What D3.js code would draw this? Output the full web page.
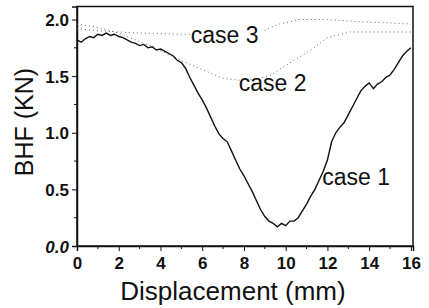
<!DOCTYPE html>
<html>
<head>
<meta charset="utf-8">
<script src="https://cdn.jsdelivr.net/npm/d3@7"></script>
<style>
  body { margin: 0; background: #fff; }
  svg { display: block; font-family: "Liberation Sans", Arial, sans-serif; }
</style>
</head>
<body>
<div id="chart"></div>
<script>
// displacement (mm) and BHF (KN)
const case1X = [0, 0.2, 0.4, 0.6, 0.8, 1.0, 1.2, 1.4, 1.6, 1.8, 2.0, 2.2, 2.4, 2.6, 2.8, 3.0, 3.2, 3.4, 3.6, 3.8,
  4.0, 4.2, 4.4, 4.6, 4.8, 5.0, 5.2, 5.4, 5.6, 5.8, 6.0, 6.2, 6.4, 6.6, 6.8, 7.0, 7.2, 7.4, 7.6, 7.8,
  8.0, 8.2, 8.4, 8.6, 8.8, 9.0, 9.2, 9.4, 9.6, 9.8, 10.0, 10.2, 10.4, 10.6, 10.8, 11.0, 11.2, 11.4, 11.6, 11.8,
  12.0, 12.2, 12.4, 12.6, 12.8, 13.0, 13.2, 13.4, 13.6, 13.8, 14.0, 14.2, 14.4, 14.6, 14.8, 15.0, 15.2, 15.4, 15.6, 15.8, 16.0];
const case1Y = [1.82, 1.80, 1.83, 1.85, 1.84, 1.87, 1.86, 1.88, 1.86, 1.87, 1.85, 1.84, 1.82, 1.80, 1.79, 1.77, 1.78, 1.75, 1.76, 1.73,
  1.74, 1.72, 1.70, 1.68, 1.64, 1.62, 1.57, 1.49, 1.42, 1.35, 1.29, 1.22, 1.14, 1.06, 0.99, 0.95, 0.92, 0.84, 0.76, 0.68,
  0.62, 0.55, 0.48, 0.40, 0.32, 0.26, 0.22, 0.20, 0.17, 0.20, 0.18, 0.22, 0.22, 0.25, 0.31, 0.37, 0.44, 0.50, 0.58, 0.66,
  0.76, 0.92, 1.00, 1.05, 1.09, 1.16, 1.23, 1.30, 1.37, 1.41, 1.44, 1.39, 1.43, 1.45, 1.49, 1.51, 1.56, 1.62, 1.68, 1.72, 1.75];

const case2X = [0, 1, 2, 2.8, 3.5, 4.3, 5.1, 6.1, 7.0, 8.0, 8.7, 9.3, 9.8, 10.4, 11.2, 12.0, 13.1, 14.0, 15.0, 16.0];
const case2Y = [1.96, 1.93, 1.88, 1.82, 1.77, 1.70, 1.63, 1.55, 1.48, 1.46, 1.48, 1.51, 1.57, 1.64, 1.73, 1.84, 1.89, 1.89, 1.89, 1.89];

const case3X = [0, 1, 2, 3, 4, 5, 5.5];
const case3Y = [1.92, 1.90, 1.89, 1.88, 1.875, 1.87, 1.87];
const case3bX = [9.0, 9.25, 9.7, 10.2, 10.6, 12.0, 13.6, 15.0, 16.0];
const case3bY = [1.90, 1.93, 1.96, 1.98, 2.0, 2.0, 1.98, 1.97, 1.96];

const xTicks = [0, 2, 4, 6, 8, 10, 12, 14, 16];
const xMinor = [1, 3, 5, 7, 9, 11, 13, 15];
const yTicks = [0, 0.5, 1.0, 1.5, 2.0];
const yMinor = [0.25, 0.75, 1.25, 1.75];

const labels = [
  {text: "case 3", x: 5.45, y: 1.795},
  {text: "case 2", x: 7.75, y: 1.37},
  {text: "case 1", x: 11.75, y: 0.54}
];

const W = 429, H = 308;
const svg = d3.select("#chart").append("svg")
  .attr("width", W).attr("height", H);

const x = d3.scaleLinear().domain([0, 16.1]).range([77, 413]);
const y = d3.scaleLinear().domain([0, 2.115]).range([246, 6.5]);

// frame
svg.append("rect")
  .attr("x", x(0)).attr("y", y(2.115))
  .attr("width", x(16.1) - x(0)).attr("height", y(0) - y(2.115))
  .attr("fill", "none").attr("stroke", "#111").attr("stroke-width", 1.5);

const xAxis = d3.axisBottom(x).tickValues(xTicks).tickSize(5).tickFormat(d3.format("d"));
const gx = svg.append("g").attr("transform", `translate(0,${y(0)})`).call(xAxis);
gx.selectAll(".tick text").attr("dy", 0).attr("y", 23)
  .style("font-size", "17px").style("font-weight", "bold").attr("fill", "#111");
gx.append("g").selectAll("line").data(xMinor).enter().append("line")
  .attr("x1", d => x(d)).attr("x2", d => x(d)).attr("y1", 0).attr("y2", 3).attr("stroke", "#111");

const yAxis = d3.axisLeft(y).tickValues(yTicks).tickSize(5).tickFormat(d3.format(".1f"));
const gy = svg.append("g").attr("transform", `translate(${x(0)},0)`).call(yAxis);
gy.selectAll(".tick text").attr("x", -8).attr("dy", "0.36em")
  .style("font-size", "17px").style("font-weight", "bold").attr("fill", "#111")
  .style("font-style", d => d === 0 ? "italic" : "normal");
gy.append("g").selectAll("line").data(yMinor).enter().append("line")
  .attr("y1", d => y(d)).attr("y2", d => y(d)).attr("x1", 0).attr("x2", -3).attr("stroke", "#111");

svg.selectAll(".domain").attr("stroke", "#111").attr("stroke-width", 1.5);
svg.selectAll(".tick line").attr("stroke", "#111");

const line = d3.line().x(d => x(d[0])).y(d => y(d[1]));

function drawDotted(xs, ys) {
  svg.append("path")
    .datum(d3.zip(xs, ys))
    .attr("d", line)
    .attr("fill", "none")
    .attr("stroke", "#666")
    .attr("stroke-width", 1)
    .attr("stroke-dasharray", "1,3");
}
drawDotted(case2X, case2Y);
drawDotted(case3X, case3Y);
drawDotted(case3bX, case3bY);

svg.append("path")
  .datum(d3.zip(case1X, case1Y))
  .attr("d", line)
  .attr("fill", "none")
  .attr("stroke", "#111")
  .attr("stroke-width", 1.4);

svg.selectAll(".case-label").data(labels).enter().append("text")
  .attr("class", "case-label")
  .attr("x", d => x(d.x)).attr("y", d => y(d.y))
  .style("font-size", "23px")
  .attr("fill", "#111")
  .text(d => d.text);

svg.append("text")
  .attr("text-anchor", "middle")
  .attr("x", 233).attr("y", 300)
  .style("font-size", "26px")
  .attr("fill", "#111")
  .text("Displacement (mm)");

svg.append("text")
  .attr("text-anchor", "middle")
  .attr("transform", "translate(33,122) rotate(-90)")
  .style("font-size", "25px")
  .attr("fill", "#111")
  .text("BHF (KN)");
</script>
</body>
</html>
